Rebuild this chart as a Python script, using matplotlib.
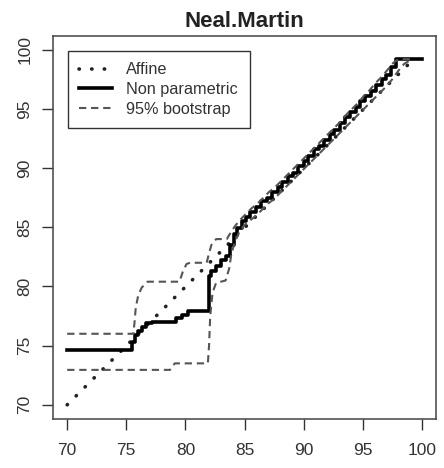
import matplotlib
matplotlib.use("Agg")
import matplotlib.pyplot as plt

plt.rcParams['font.family'] = ['Liberation Sans', 'DejaVu Sans']

title = "Neal.Martin"
ticks = [70, 75, 80, 85, 90, 95, 100]
labels = ["Affine", "Non parametric", "95% bootstrap"]

# Affine mapping (straight line)
affine_x = [70.0, 99.0]
affine_y = [70.0, 98.9]

# Non-parametric mapping (step function knots)
np_x = [70.0, 75.5, 75.7, 76.0, 76.3, 76.7, 77.2, 79.2, 79.7, 80.2, 82.0, 82.2,
        82.6, 83.0, 83.4, 83.8, 84.1, 84.4, 84.8, 85.1, 85.5, 86.0, 86.4, 86.9,
        87.3, 87.8, 88.2, 88.7, 89.1, 89.5, 90.0, 90.4, 90.9, 91.3, 91.7, 92.2,
        92.6, 93.1, 93.5, 93.9, 94.4, 94.8, 95.2, 95.7, 96.1, 96.6, 97.0, 97.4,
        97.8, 100.0]
np_y = [74.6, 75.3, 75.9, 76.2, 76.6, 76.9, 77.0, 77.3, 77.6, 77.9, 80.9, 81.3,
        81.7, 82.2, 82.6, 83.5, 84.4, 84.9, 85.5, 85.9, 86.3, 86.7, 87.2, 87.5,
        88.0, 88.4, 88.8, 89.3, 89.6, 90.2, 90.6, 91.0, 91.6, 91.9, 92.4, 92.9,
        93.2, 93.8, 94.3, 94.7, 95.2, 95.7, 96.1, 96.5, 97.0, 97.5, 97.9, 98.5,
        99.2, 99.2]

# Upper and lower 95% bootstrap bands
up_x = [70.0, 75.6, 75.7, 75.8, 76.0, 76.3, 76.8, 79.5, 79.8, 80.1, 80.4, 81.8,
        82.0, 82.2, 82.6, 83.5, 83.8, 84.2, 84.6, 85.1, 85.6, 86.1, 86.6, 87.1,
        87.6, 88.1, 88.6, 89.1, 89.6, 90.1, 90.6, 91.1, 91.6, 92.1, 92.6, 93.1,
        93.6, 94.1, 94.6, 95.1, 95.6, 96.1, 96.6, 97.1, 97.6, 98.0, 99.0]
up_y = [76.0, 76.0, 77.0, 78.2, 79.2, 79.9, 80.4, 80.4, 81.3, 81.9, 82.0, 82.0,
        82.8, 83.5, 84.0, 84.0, 84.5, 85.1, 85.6, 86.1, 86.6, 87.0, 87.5, 88.0,
        88.4, 88.9, 89.4, 89.9, 90.4, 90.9, 91.4, 91.9, 92.4, 92.9, 93.4, 93.9,
        94.5, 95.0, 95.5, 96.1, 96.6, 97.2, 97.7, 98.3, 98.9, 99.2, 99.2]

lo_x = [70.0, 78.7, 79.1, 81.9, 82.0, 82.1, 82.3, 82.6, 83.4, 83.7, 83.9, 84.2,
        84.6, 85.0, 85.5, 86.0, 86.5, 87.0, 87.5, 88.0, 88.5, 89.0, 89.5, 90.0,
        90.5, 91.0, 91.5, 92.0, 92.5, 93.0, 93.5, 94.0, 94.5, 95.0, 95.5, 96.0,
        96.5, 97.0, 97.5, 98.0, 98.5, 99.0]
lo_y = [72.95, 72.95, 73.5, 73.5, 75.0, 77.5, 79.5, 80.3, 80.5, 81.5, 82.8, 83.8,
        84.7, 85.2, 85.6, 86.0, 86.5, 87.0, 87.4, 87.9, 88.4, 88.9, 89.4, 89.9,
        90.4, 90.9, 91.4, 91.9, 92.4, 92.9, 93.4, 93.9, 94.4, 94.9, 95.4, 95.9,
        96.4, 96.9, 97.5, 98.2, 98.8, 99.1]

fig = plt.figure(figsize=(4.44, 4.68), dpi=100)
ax = fig.add_axes([53 / 444, 1 - 419 / 468, 383 / 444, 383.5 / 468])

ax.plot(affine_x, affine_y, color="#222222", linewidth=2.6,
        linestyle=(0, (0.1, 3.4)), dash_capstyle="round", label=labels[0])
ax.plot(np_x, np_y, color="black", linewidth=2.6, drawstyle="steps-post",
        label=labels[1])
ax.plot(up_x, up_y, color="#555555", linewidth=1.5, linestyle=(0, (3.5, 2.3)),
        label=labels[2])
ax.plot(lo_x, lo_y, color="#555555", linewidth=1.5, linestyle=(0, (3.5, 2.3)))

ax.set_xlim(68.8, 101.2)
ax.set_ylim(68.8, 101.2)
ax.set_xticks(ticks)
ax.set_yticks(ticks)
ax.tick_params(axis="both", length=8, width=1, colors="#333333", labelsize=12.5,
               labelcolor="#333333")
ax.tick_params(axis="x", pad=9)
ax.tick_params(axis="y", pad=7, labelrotation=90)
for lab in ax.get_yticklabels():
    lab.set_va("center")
for s in ax.spines.values():
    s.set_linewidth(1.1)
    s.set_color("#444444")

ax.set_title(title, fontsize=16, fontweight="bold", pad=6, color="#222222")

leg = ax.legend(loc="upper left", bbox_to_anchor=(0.039, 0.96), borderaxespad=0,
                fontsize=11.7, handlelength=2.0, handletextpad=0.9,
                labelspacing=0.3, borderpad=0.7, fancybox=False, framealpha=1,
                edgecolor="#333333")
leg.get_frame().set_linewidth(1.0)
for t in leg.get_texts():
    t.set_color("#333333")

fig.savefig("out.png", dpi=100)
